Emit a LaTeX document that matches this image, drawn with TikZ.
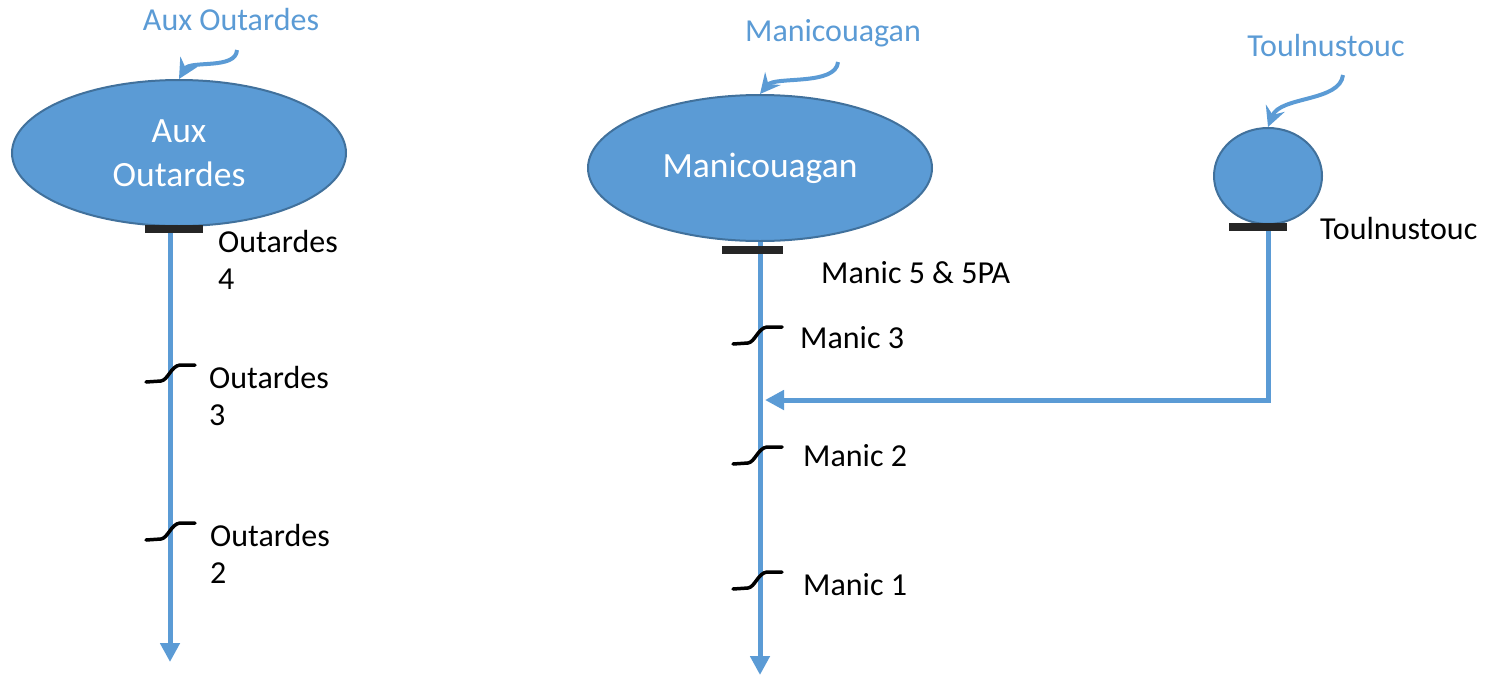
\documentclass[tikz,border=0pt]{standalone}
\usepackage{fontspec}
\setmainfont{Carlito}
\usetikzlibrary{shapes.geometric,arrows.meta}

\definecolor{lakeblue}{HTML}{5B9BD5}
\definecolor{lakeedge}{HTML}{41719C}
\definecolor{damgrey}{HTML}{262626}

\tikzset{
    reservoir/.style={ellipse, draw=lakeedge, line width=2pt, fill=lakeblue,
        text=white, inner sep=0pt, align=center, font=\fontsize{35.5}{44}\selectfont},
    river/.style={draw=lakeblue, line width=5pt, -{Triangle[length=19pt,width=19pt]}},
    damwall/.style={rectangle, fill=damgrey, minimum width=58pt, minimum height=8pt, inner sep=0pt},
    callout/.style={text=lakeblue, inner sep=0pt, font=\fontsize{32}{38}\selectfont},
    pointer/.style={draw=lakeblue, line width=4pt, -{Stealth[length=20pt,width=20pt,inset=7pt]}},
    damname/.style={font=\fontsize{32}{37}\selectfont, align=left, anchor=west, inner sep=0pt},
    weir/.pic={\draw[line width=3.5pt, line cap=round] (-24,8) -- (-9,7) .. controls (-2,6) and (1,-8) .. (10,-9) -- (25,-9);}
}

\begin{document}
\begin{tikzpicture}[x=1pt, y=-1pt]
\useasboundingbox (0,0) rectangle (1489,678);

% reservoirs
\node[reservoir, minimum width=334pt, minimum height=146pt] (resAux) at (179,153) {Aux\\Outardes};
\node[reservoir, minimum width=344pt, minimum height=146pt] (resMan) at (760,168) {Manicouagan};
\node[reservoir, minimum width=108pt, minimum height=96pt] (resToul) at (1268,176) {};

% names above
\node[callout] (lblAux) at (231,20) {Aux Outardes};
\node[callout] (lblMan) at (833,33) {Manicouagan};
\node[callout] (lblToul) at (1326,46) {Toulnustouc};

\draw[pointer] ([shift={(6,30)}]lblAux.center) .. controls (236,70) and (190,60) .. (resAux.north);
\draw[pointer] ([shift={(5,29)}]lblMan.center) .. controls (836,86) and (775,76) .. (resMan.north);
\draw[pointer] ([shift={(17,29)}]lblToul.center) .. controls (1340,102) and (1280,96) .. (resToul.north);

% rivers
\coordinate (topAux) at (170,226);
\coordinate (endAux) at (170,662);
\coordinate (endMan) at (760,675);
\coordinate (junction) at (765,400);

\draw[river] (topAux) -- (endAux);
\draw[river] (resMan.south) -- (endMan);
\draw[river] (resToul.south) |- (junction);

% dams
\node[damwall] (damO4) at (174,229) {};
\node[damwall, minimum width=61pt] (damM5) at (752,250) {};
\node[damwall] (damT) at (1258,227) {};

\pic at (170,374) {weir};
\pic at (170,532) {weir};
\pic at (757,336) {weir};
\pic at (757,456) {weir};
\pic at (757,581) {weir};

% dam names
\node[damname] (nameO4) at (218,260) {Outardes\\4};
\node[damname] (nameO3) at (209,396) {Outardes\\3};
\node[damname] (nameO2) at (210,554) {Outardes\\2};
\node[damname] (nameM5) at (821,273) {Manic 5 \& 5PA};
\node[damname] (nameM3) at (800,338) {Manic 3};
\node[damname] (nameM2) at (803,456) {Manic 2};
\node[damname] (nameM1) at (803,585) {Manic 1};
\node[damname] (nameT) at (1320,229) {Toulnustouc};
\end{tikzpicture}
\end{document}
